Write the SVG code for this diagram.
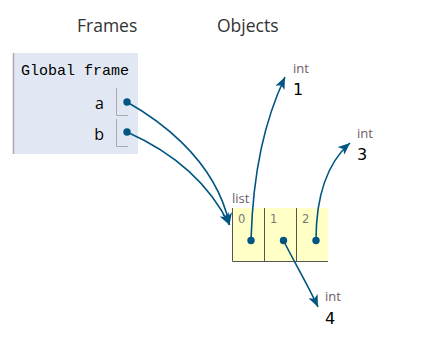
<svg xmlns="http://www.w3.org/2000/svg" width="436" height="344" viewBox="0 0 436 344">
<style>
.hdr{font-family:"Open Sans","DejaVu Sans",sans-serif;font-size:17.5px;fill:#333}
.mono{font-family:"Liberation Mono","DejaVu Sans Mono",monospace;font-size:15px;fill:#000}
.var{font-family:"Open Sans","DejaVu Sans",sans-serif;font-size:16px;fill:#000}
.type{font-family:"Open Sans","DejaVu Sans",sans-serif;font-size:13px;fill:#6e5a6a}
.num{font-family:"DejaVu Sans",Verdana,sans-serif;font-size:16px;fill:#000}
.idx{font-family:"DejaVu Sans",Verdana,sans-serif;font-size:11.5px;fill:#777}
.link{fill:none;stroke:#005583;stroke-width:1.6}
.dot{fill:#005583}
.brk{fill:none;stroke:#aaa;stroke-width:1}
.cell{fill:#ffffc6}
.cb{stroke:#555;stroke-width:1;fill:none}
</style>
<defs>
<marker id="ah" viewBox="0 0 12 10" refX="12" refY="5" markerWidth="12" markerHeight="10" markerUnits="userSpaceOnUse" orient="auto">
<path d="M0,0 L12,5 L0,10 L3,5 Z" fill="#005583"/>
</marker>
</defs>
<text class="hdr" x="77" y="31.5">Frames</text>
<text class="hdr" x="217" y="31.5">Objects</text>
<g id="global-frame">
<rect x="13" y="53" width="125" height="101" fill="#e2e8f3"/>
<line x1="13.5" y1="53" x2="13.5" y2="154" stroke="#aaa" stroke-width="1.5"/>
<text class="mono" x="21" y="75">Global frame</text>
<text class="var" x="104" y="109" text-anchor="end">a</text>
<text class="var" x="104" y="140" text-anchor="end">b</text>
<path class="brk" d="M116.5,88 V115.5 H128"/>
<path class="brk" d="M116.5,119 V146.5 H128"/>
<circle class="dot" cx="127" cy="102" r="3.7"/>
<circle class="dot" cx="127" cy="132" r="3.7"/>
</g>
<g id="list">
<text class="type" x="232" y="203">list</text>
<rect class="cell" x="232" y="208" width="96" height="53"/>
<path class="cb" d="M232.5,208 V261.5 H328 M264.5,208 V261.5 M296.5,208 V261.5"/>
<text class="idx" x="238" y="223">0</text>
<text class="idx" x="270" y="223">1</text>
<text class="idx" x="302" y="223">2</text>
<circle class="dot" cx="251" cy="240.5" r="3.7"/>
<circle class="dot" cx="283.5" cy="240.5" r="3.7"/>
<circle class="dot" cx="316" cy="240.5" r="3.7"/>
</g>
<g id="int1">
<text class="type" x="293" y="72.5">int</text>
<text class="num" x="293" y="95">1</text>
</g>
<g id="int3">
<text class="type" x="357" y="137.5">int</text>
<text class="num" x="357" y="160">3</text>
</g>
<g id="int4">
<text class="type" x="325" y="300.5">int</text>
<text class="num" x="325" y="324">4</text>
</g>
<g id="connectors">
<path class="link" marker-end="url(#ah)" d="M127,102 C150,115 215,155 229.5,225"/>
<path class="link" marker-end="url(#ah)" d="M127,132 C145,140 200,165 229.5,225"/>
<path class="link" marker-end="url(#ah)" d="M251,240.5 C253,170 265,120 285,77"/>
<path class="link" marker-end="url(#ah)" d="M316,240.5 C316,200 325,165 350,143"/>
<path class="link" marker-end="url(#ah)" d="M283.5,240.5 C292,258 308,285 318,307"/>
</g>
</svg>
